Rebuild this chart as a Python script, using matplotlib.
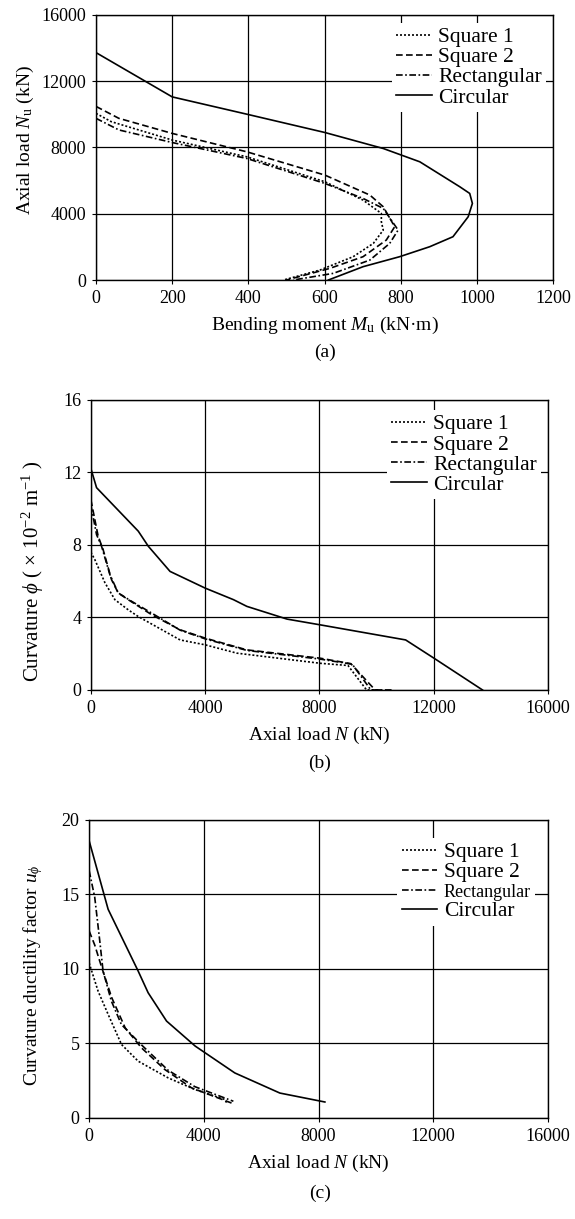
import matplotlib
matplotlib.use('Agg')
import matplotlib.pyplot as plt
import numpy as np

plt.rcParams['font.family'] = ['Liberation Serif', 'DejaVu Serif']
plt.rcParams['mathtext.fontset'] = 'custom'
plt.rcParams['mathtext.rm'] = 'Liberation Serif'
plt.rcParams['mathtext.it'] = 'Liberation Serif:italic'

series_names = ['Square 1', 'Square 2', 'Rectangular', 'Circular']

# (a) interaction curves: bending moment (kN·m) vs axial load (kN)
a_sq1_m = [0, 40, 200, 396, 601, 701, 749, 749, 754, 728, 675, 588, 492]
a_sq1_n = [10060, 9560, 8450, 7437, 5930, 4824, 4020, 3518, 3015, 2211, 1407, 603, 0]
a_sq2_m = [0, 60, 200, 396, 601, 719, 754, 784, 762, 701, 614, 500]
a_sq2_n = [10480, 9760, 8850, 7739, 6332, 5126, 4422, 3216, 2412, 1407, 704, 0]
a_rec_m = [0, 60, 200, 396, 601, 701, 754, 793, 771, 719, 623, 518]
a_rec_n = [9760, 9060, 8300, 7337, 5829, 4925, 4322, 3015, 2211, 1206, 402, 0]
a_cir_m = [0, 200, 396, 601, 754, 850, 955, 981, 988, 977, 937, 876, 797, 701, 610]
a_cir_n = [13728, 11055, 10010, 8904, 7940, 7136, 5628, 5226, 4623, 3819, 2613, 2010, 1407, 804, 0]

# (b) curvature (x10^-2 1/m) vs axial load (kN)
b_sq1_n = [0, 140, 491, 842, 1309, 1660, 3123, 4000, 5111, 8035, 9000, 9650, 10050]
b_sq1_c = [7.6, 7.19, 5.92, 4.98, 4.42, 4.05, 2.76, 2.49, 2.03, 1.47, 1.35, 0, 0]
b_sq2_n = [0, 256, 430, 725, 958, 1309, 2130, 3123, 4000, 5462, 8035, 9100, 9950, 10600]
b_sq2_c = [10.5, 8.48, 7.74, 6.08, 5.35, 4.98, 4.15, 3.32, 2.86, 2.21, 1.75, 1.45, 0, 0]
b_rec_n = [0, 200, 375, 667, 960, 1426, 2130, 3123, 4000, 5462, 8035, 9150, 9800, 10300]
b_rec_c = [10.2, 8.57, 7.93, 6.36, 5.35, 4.89, 4.24, 3.30, 2.82, 2.18, 1.70, 1.42, 0, 0]
b_cir_n = [0, 200, 1660, 2010, 2772, 4000, 4994, 5462, 6865, 8035, 11018, 12012, 13708]
b_cir_c = [12.22, 11.16, 8.76, 7.93, 6.54, 5.62, 4.98, 4.61, 3.91, 3.59, 2.76, 1.75, 0]

# (c) curvature ductility factor vs axial load (kN)
c_sq1_n = [0, 314, 663, 1129, 1709, 2755, 3685, 4731, 4800]
c_sq1_u = [10.4, 8.5, 6.95, 4.93, 3.81, 2.69, 1.91, 1.24, 1.0]
c_sq2_n = [0, 196, 442, 791, 1256, 1827, 2640, 3570, 4965]
c_sq2_u = [12.55, 11.6, 10.08, 8.06, 6.05, 4.7, 3.25, 2.02, 1.0]
c_rec_n = [0, 196, 370, 486, 776, 1125, 1827, 2755, 3685, 5030]
c_rec_u = [16.6, 14.8, 11.9, 9.86, 7.84, 6.27, 4.9, 3.2, 2.1, 1.12]
c_cir_n = [0, 663, 1709, 2058, 2700, 3700, 5080, 6651, 8221]
c_cir_u = [18.6, 14.0, 9.86, 8.4, 6.5, 4.82, 3.02, 1.67, 1.07]

line_styles = [(0, (1.2, 1.2)), (0, (4, 2)), (0, (4, 1.5, 1, 1.5)), '-']


def draw_panel(ax, curves, xlim, xticks, ylim, yticks, xlabel, ylabel,
               legend_anchor, ylabel_size=14, rect_size=15.5):

    for (x, y), name, ls in zip(curves, series_names, line_styles):
        ax.plot(x, y, color='k', linestyle=ls, linewidth=1.2, label=name)

    ax.set_xlim(xlim)
    ax.set_ylim(ylim)
    ax.set_xticks(xticks)
    ax.set_yticks(yticks)
    ax.grid(True, color='k', linewidth=0.9)
    ax.set_axisbelow(True)
    ax.tick_params(direction='out', length=3, width=0.8, labelsize=13, color='k', pad=4)
    for spine in ax.spines.values():
        spine.set_linewidth(1.0)
        spine.set_color('k')

    ax.set_xlabel(xlabel, fontsize=14, labelpad=6)
    ax.set_ylabel(ylabel, fontsize=ylabel_size)

    leg = ax.legend(loc='upper right', bbox_to_anchor=legend_anchor,
                    borderaxespad=0, borderpad=0.2, labelspacing=0.0,
                    handlelength=1.65, handletextpad=0.3,
                    fontsize=15.5, frameon=True, fancybox=False)
    leg.get_frame().set_facecolor('white')
    leg.get_frame().set_edgecolor('none')
    leg.get_frame().set_alpha(1)
    leg.get_texts()[2].set_fontsize(rect_size)
    leg.set_zorder(5)
    return leg


fig = plt.figure(figsize=(5.75, 12.19), dpi=100)

ax_a = fig.add_axes([0.167, 0.7703, 0.795, 0.2174])
draw_panel(ax_a,
           [(a_sq1_m, a_sq1_n), (a_sq2_m, a_sq2_n), (a_rec_m, a_rec_n), (a_cir_m, a_cir_n)],
           (0, 1200), np.arange(0, 1201, 200), (0, 16000), np.arange(0, 16001, 4000),
           'Bending moment $M_\\mathrm{u}$ (kN·m)', 'Axial load $N_\\mathrm{u}$ (kN)',
           (0.985, 0.97))
ax_a.yaxis.set_label_coords(-0.155, 0.528)
ax_a.yaxis.label.set_va('center')

ax_b = fig.add_axes([0.158, 0.4340, 0.795, 0.2379])
draw_panel(ax_b,
           [(b_sq1_n, b_sq1_c), (b_sq2_n, b_sq2_c), (b_rec_n, b_rec_c), (b_cir_n, b_cir_c)],
           (0, 16000), np.arange(0, 16001, 4000), (0, 16), np.arange(0, 17, 4),
           'Axial load $N$ (kN)', 'Curvature $\\phi$ ( $\\times$ 10$^{-2}$ m$^{-1}$ )',
           (0.985, 0.965), ylabel_size=15)
ax_b.yaxis.set_label_coords(-0.127, 0.41)
ax_b.yaxis.label.set_va('center')

ax_c = fig.add_axes([0.155, 0.0829, 0.798, 0.2445])
draw_panel(ax_c,
           [(c_sq1_n, c_sq1_u), (c_sq2_n, c_sq2_u), (c_rec_n, c_rec_u), (c_cir_n, c_cir_u)],
           (0, 16000), np.arange(0, 16001, 4000), (0, 20), np.arange(0, 21, 5),
           'Axial load $N$ (kN)', 'Curvature ductility factor $u_\\phi$',
           (0.972, 0.94), rect_size=13)
ax_c.yaxis.set_label_coords(-0.122, 0.48)
ax_c.yaxis.label.set_va('center')

fig.text(0.565, 1 - 352 / 1219, '(a)', ha='center', va='center', fontsize=14)
fig.text(0.556, 1 - 763 / 1219, '(b)', ha='center', va='center', fontsize=14)
fig.text(0.556, 1 - 1193 / 1219, '(c)', ha='center', va='center', fontsize=14)

fig.savefig('out.png', dpi=100)
